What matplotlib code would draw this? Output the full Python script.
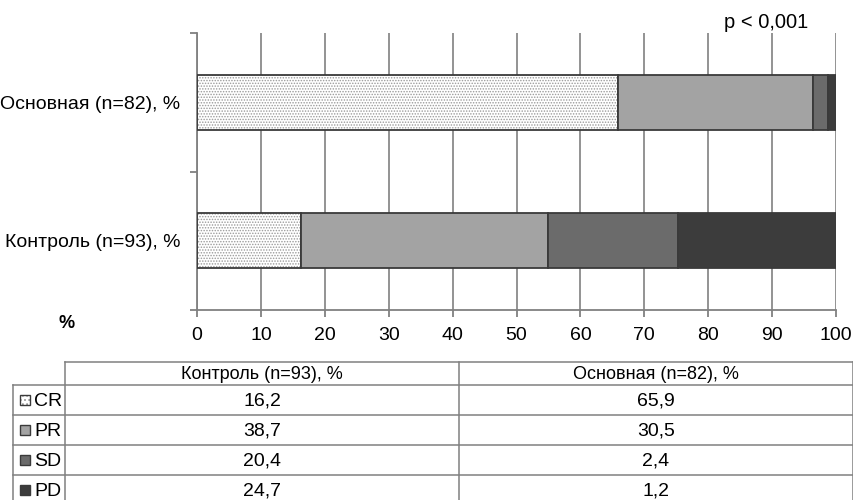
import matplotlib
matplotlib.use('Agg')
import matplotlib.pyplot as plt
from matplotlib.patches import Rectangle

plt.rcParams['font.family'] = ['Liberation Sans', 'DejaVu Sans']
plt.rcParams['hatch.linewidth'] = 0.7

# ---- data ----
categories = ['Контроль (n=93), %', 'Основная (n=82), %']
series_names = ['CR', 'PR', 'SD', 'PD']
cr_vals = [16.2, 65.9]
pr_vals = [38.7, 30.5]
sd_vals = [20.4, 2.4]
pd_vals = [24.7, 1.2]
x_ticks = [0, 10, 20, 30, 40, 50, 60, 70, 80, 90, 100]
p_label = 'p < 0,001'
corner_label = '%'

series_vals = [cr_vals, pr_vals, sd_vals, pd_vals]
colors = ['white', '#a3a3a3', '#6b6b6b', '#3c3c3c']
edge = '#3a3a3a'

W, H = 854, 500
fig = plt.figure(figsize=(W / 100, H / 100), dpi=100)

ax = fig.add_axes([197 / W, 1 - 310 / H, (836 - 197) / W, (310 - 33) / H])
ypos = [0.5, 1.5]
left = [0.0, 0.0]
for name, vals, col in zip(series_names, series_vals, colors):
    if name == 'CR':
        ax.barh(ypos, vals, left=left, height=0.4, color='white',
                edgecolor='#9a9a9a', hatch='......', linewidth=0, zorder=2)
        ax.barh(ypos, vals, left=left, height=0.4, color='none',
                edgecolor=edge, linewidth=1.3, zorder=3)
    else:
        ax.barh(ypos, vals, left=left, height=0.4, color=col,
                edgecolor=edge, linewidth=1.3, zorder=3)
    left = [l + v for l, v in zip(left, vals)]

ax.set_xlim(0, 100)
ax.set_ylim(0, 2)
ax.set_xticks(x_ticks)
ax.set_xticklabels([str(t) for t in x_ticks])
ax.set_yticks([0, 1, 2])
ax.set_yticklabels([])
ax.set_yticks(ypos, minor=True)
ax.set_yticklabels(categories, minor=True)
ax.tick_params(axis='y', which='major', length=5, width=1.3, color='#808080', direction='out')
ax.tick_params(axis='y', which='minor', length=0, pad=12, labelsize=14)
ax.tick_params(axis='x', which='major', length=5, width=1.3, color='#808080',
               direction='out', pad=7, labelsize=14)
for s in ['top', 'right']:
    ax.spines[s].set_visible(False)
for s in ['left', 'bottom']:
    ax.spines[s].set_color('#808080')
    ax.spines[s].set_linewidth(1.3)
ax.grid(axis='x', color='#8a8a8a', linewidth=1.3, zorder=0)
ax.set_axisbelow(True)

# ---- overlay for texts and data table ----
ov = fig.add_axes([0, 0, 1, 1], facecolor='none')
ov.set_xlim(0, W)
ov.set_ylim(H, 0)
ov.axis('off')

ov.text(766, 23, p_label, ha='center', va='center', fontsize=14.5)
ov.text(67, 324, corner_label, ha='center', va='center', fontsize=13, fontweight='bold')

lc = '#808080'
lw = 1.1
x0, x1, x2, x3 = 13, 65, 459, 853
y_head = 362
y_rows = [385, 415, 445, 475, 505]

# header
ov.plot([x1, x3], [y_head, y_head], color=lc, lw=lw)
for xx in [x1, x2, x3]:
    ov.plot([xx, xx], [y_head, y_rows[-1]], color=lc, lw=lw)
ov.plot([x0, x0], [y_rows[0], y_rows[-1]], color=lc, lw=lw)
for yy in y_rows:
    ov.plot([x0, x3], [yy, yy], color=lc, lw=lw)

ov.text((x1 + x2) / 2, (y_head + y_rows[0]) / 2 + 1, categories[0], ha='center', va='center', fontsize=13)
ov.text((x2 + x3) / 2, (y_head + y_rows[0]) / 2 + 1, categories[1], ha='center', va='center', fontsize=13)

for i, (name, vals, col) in enumerate(zip(series_names, series_vals, colors)):
    yc = (y_rows[i] + y_rows[i + 1]) / 2
    if name == 'CR':
        ov.add_patch(Rectangle((20, yc - 5), 10, 10, facecolor='white', edgecolor='#8a8a8a',
                               hatch='....', linewidth=0))
        ov.add_patch(Rectangle((20, yc - 5), 10, 10, facecolor='none', edgecolor=edge, linewidth=1.0))
    else:
        ov.add_patch(Rectangle((20, yc - 5), 10, 10, facecolor=col, edgecolor=edge, linewidth=1.0))
    ov.text(34, yc + 1, name, ha='left', va='center', fontsize=14)
    for j, v in enumerate(vals):
        cx = (x1 + x2) / 2 if j == 0 else (x2 + x3) / 2
        ov.text(cx, yc + 1, f'{v:.1f}'.replace('.', ','), ha='center', va='center', fontsize=14)

fig.savefig('out.png', dpi=100)
